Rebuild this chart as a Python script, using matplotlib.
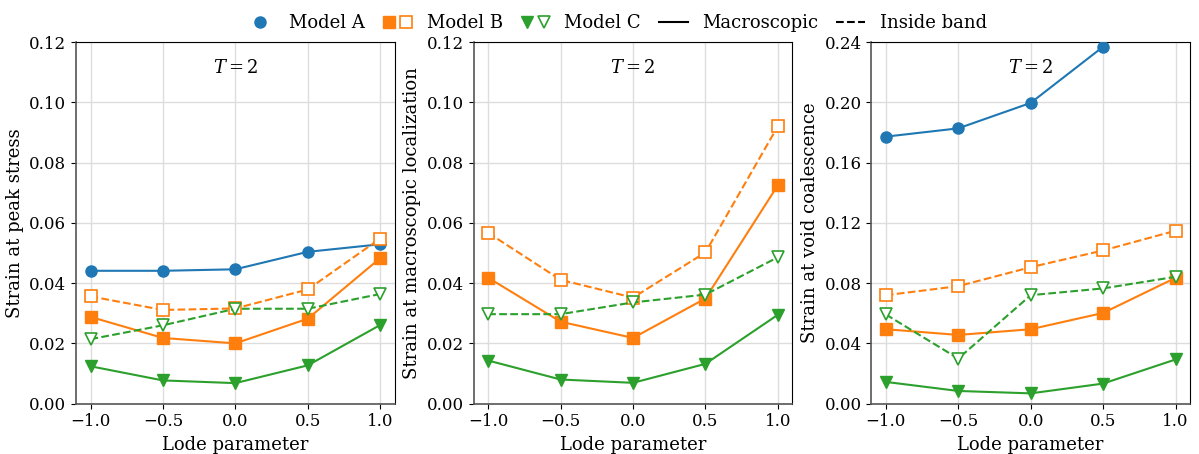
import numpy as np
import matplotlib
matplotlib.use('Agg')
from matplotlib import pyplot as plt
from matplotlib.lines import Line2D
from matplotlib.legend_handler import HandlerTuple

plt.rcParams['font.family'] = 'DejaVu Serif'
plt.rcParams['mathtext.fontset'] = 'dejavuserif'

lode = [-1.0, -0.5, 0.0, 0.5, 1.0]

# strain at peak stress
peak_A = [0.0441, 0.0441, 0.0446, 0.0504, 0.0529]
peak_B_macro = [0.0288, 0.0218, 0.0200, 0.0282, 0.0483]
peak_B_band = [0.0356, 0.0311, 0.0316, 0.0379, 0.0548]
peak_C_macro = [0.0124, 0.0077, 0.0068, 0.0127, 0.0261]
peak_C_band = [0.0214, 0.0260, 0.0315, 0.0315, 0.0364]

# strain at macroscopic localization
loc_B_macro = [0.0418, 0.0272, 0.0218, 0.0349, 0.0725]
loc_B_band = [0.0567, 0.0411, 0.0352, 0.0502, 0.0921]
loc_C_macro = [0.0143, 0.0080, 0.0069, 0.0132, 0.0295]
loc_C_band = [0.0297, 0.0297, 0.0336, 0.0362, 0.0486]

# strain at void coalescence
coal_A = [0.1773, 0.1828, 0.1997, 0.2370, np.nan]
coal_B_macro = [0.0494, 0.0456, 0.0494, 0.0602, 0.0835]
coal_B_band = [0.0720, 0.0780, 0.0906, 0.1017, 0.1148]
coal_C_macro = [0.0144, 0.0084, 0.0068, 0.0133, 0.0293]
coal_C_band = [0.0592, 0.0299, 0.0720, 0.0765, 0.0842]

c_a = '#1f77b4'
c_b = '#ff7f0e'
c_c = '#2ca02c'

fig, axes = plt.subplots(1, 3, figsize=(11.99, 4.54), dpi=100)
fig.subplots_adjust(left=0.0634, right=0.9925, top=0.907, bottom=0.111, wspace=0.248)

panels = [
    (peak_A, peak_B_macro, peak_B_band, peak_C_macro, peak_C_band,
     'Strain at peak stress', 0.12, [0, 0.02, 0.04, 0.06, 0.08, 0.10, 0.12]),
    (None, loc_B_macro, loc_B_band, loc_C_macro, loc_C_band,
     'Strain at macroscopic localization', 0.12, [0, 0.02, 0.04, 0.06, 0.08, 0.10, 0.12]),
    (coal_A, coal_B_macro, coal_B_band, coal_C_macro, coal_C_band,
     'Strain at void coalescence', 0.24, [0, 0.04, 0.08, 0.12, 0.16, 0.20, 0.24]),
]

for ax, (a, bm, bb, cm, cb, ylab, ymax, yt) in zip(axes, panels):
    if a is not None:
        ax.plot(lode, a, '-o', color=c_a, markersize=8, linewidth=1.5, zorder=3)
    ax.plot(lode, bm, '-s', color=c_b, markersize=8, linewidth=1.5, zorder=3)
    ax.plot(lode, bb, '--s', color=c_b, markersize=8, linewidth=1.5,
            markerfacecolor='white', markeredgewidth=1.2, zorder=3)
    ax.plot(lode, cm, '-v', color=c_c, markersize=8, linewidth=1.5, zorder=3)
    ax.plot(lode, cb, '--v', color=c_c, markersize=8, linewidth=1.5,
            markerfacecolor='white', markeredgewidth=1.2, zorder=3)
    ax.set_xlim(-1.1, 1.1)
    ax.set_ylim(0, ymax)
    ax.set_xticks(lode)
    ax.set_yticks(yt)
    ax.set_yticklabels([f'{v:.2f}' for v in yt])
    ax.set_xlabel('Lode parameter', fontsize=13)
    ax.set_ylabel(ylab, fontsize=13)
    ax.tick_params(labelsize=12)
    ax.grid(True, color='#dddddd', linewidth=1)
    ax.set_axisbelow(True)
    for s in ['left', 'bottom']:
        ax.spines[s].set_color('#555555')
        ax.spines[s].set_linewidth(1.2)
    ax.text(0.5, 0.93, '$T = 2$', transform=ax.transAxes, ha='center', va='center', fontsize=13)

h_a = Line2D([], [], linestyle='', marker='o', color=c_a, markersize=8)
h_b1 = Line2D([], [], linestyle='', marker='s', color=c_b, markersize=8)
h_b2 = Line2D([], [], linestyle='', marker='s', color=c_b, markersize=8, markerfacecolor='white', markeredgewidth=1.2)
h_c1 = Line2D([], [], linestyle='', marker='v', color=c_c, markersize=8)
h_c2 = Line2D([], [], linestyle='', marker='v', color=c_c, markersize=8, markerfacecolor='white', markeredgewidth=1.2)
h_m = Line2D([], [], linestyle='-', color='black', linewidth=1.5)
h_i = Line2D([], [], linestyle='--', color='black', linewidth=1.5)

fig.legend([h_a, (h_b1, h_b2), (h_c1, h_c2), h_m, h_i],
           ['Model A', 'Model B', 'Model C', 'Macroscopic', 'Inside band'],
           handler_map={tuple: HandlerTuple(ndivide=None, pad=0.3)},
           loc='upper center', bbox_to_anchor=(0.514, 1.005), ncol=5, frameon=False,
           fontsize=13, handlelength=1.6, columnspacing=1.0)

fig.savefig('out.png', dpi=100)
